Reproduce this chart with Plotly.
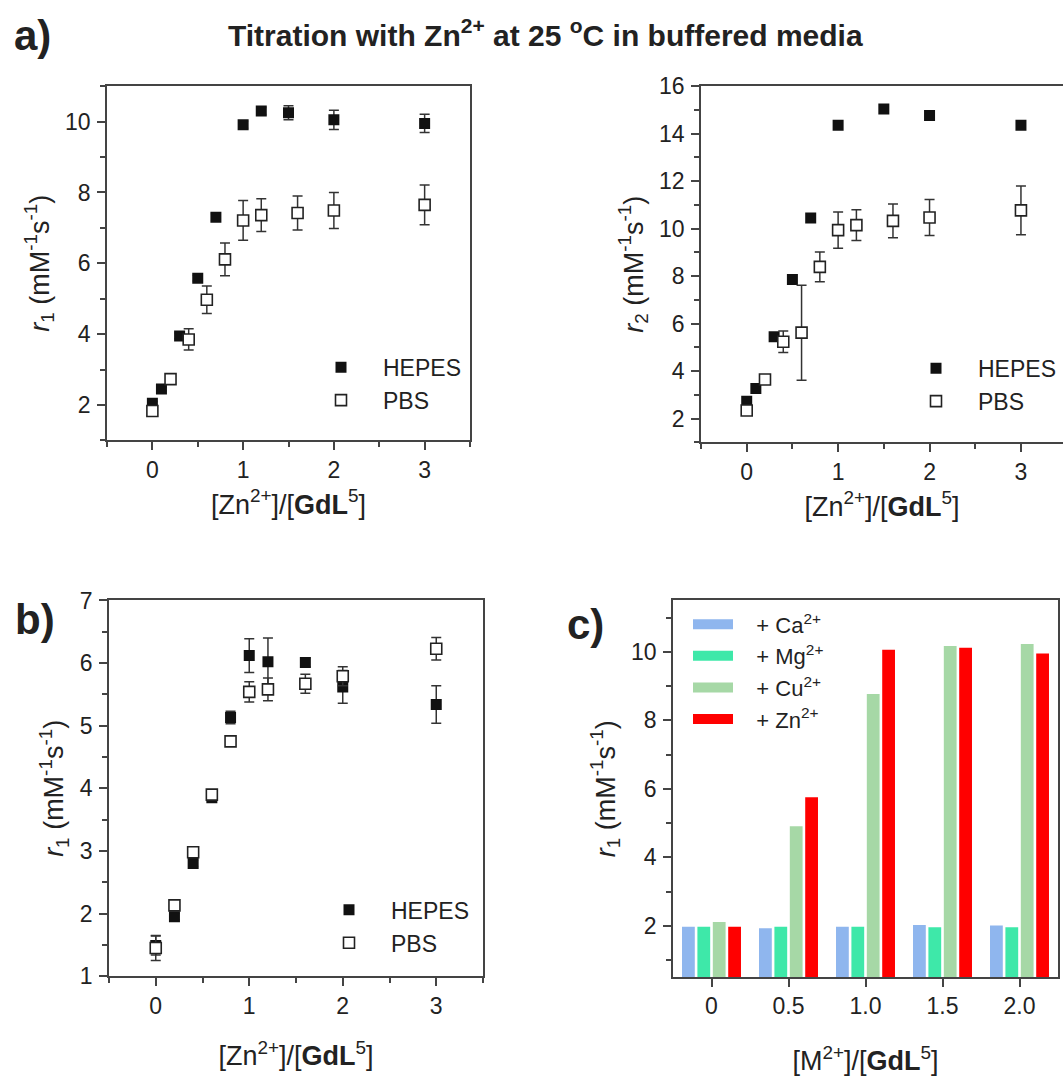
import plotly.graph_objects as go

# ---------------- data ----------------
# panel a (left): r1 titration
a1_hepes_x = [0, 0.1, 0.3, 0.5, 0.7, 1.0, 1.2, 1.5, 2.0, 3.0]
a1_hepes_y = [2.05, 2.45, 3.95, 5.58, 7.30, 9.91, 10.30, 10.25, 10.05, 9.95]
a1_hepes_e = [0.05, 0.05, 0.08, 0.08, 0.1, 0.1, 0.1, 0.2, 0.27, 0.26]
a1_pbs_x = [0, 0.2, 0.4, 0.6, 0.8, 1.0, 1.2, 1.6, 2.0, 3.0]
a1_pbs_y = [1.83, 2.73, 3.85, 4.97, 6.11, 7.21, 7.36, 7.42, 7.49, 7.65]
a1_pbs_e = [0.08, 0.1, 0.3, 0.39, 0.46, 0.56, 0.46, 0.48, 0.51, 0.56]

# panel a (right): r2 titration
a2_hepes_x = [0, 0.1, 0.3, 0.5, 0.7, 1.0, 1.5, 2.0, 3.0]
a2_hepes_y = [2.73, 3.27, 5.45, 7.86, 10.45, 14.36, 15.04, 14.77, 14.35]
a2_pbs_x = [0, 0.2, 0.4, 0.6, 0.8, 1.0, 1.2, 1.6, 2.0, 3.0]
a2_pbs_y = [2.34, 3.65, 5.24, 5.62, 8.39, 9.94, 10.15, 10.33, 10.47, 10.77]
a2_pbs_e = [0.1, 0.15, 0.45, 2.0, 0.63, 0.76, 0.65, 0.71, 0.76, 1.03]

# panel b: r1 titration
b_x = [0, 0.2, 0.4, 0.6, 0.8, 1.0, 1.2, 1.6, 2.0, 3.0]
b_hepes_y = [1.49, 1.95, 2.80, 3.85, 5.13, 6.12, 6.02, 6.01, 5.62, 5.34]
b_hepes_e = [0.15, 0.05, 0.05, 0.05, 0.1, 0.27, 0.38, 0.07, 0.26, 0.3]
b_pbs_y = [1.45, 2.13, 2.98, 3.90, 4.75, 5.54, 5.58, 5.67, 5.79, 6.23]
b_pbs_e = [0.2, 0.08, 0.05, 0.05, 0.05, 0.16, 0.18, 0.15, 0.15, 0.18]

# panel c: bars
c_x = [0, 0.5, 1.0, 1.5, 2.0]
c_ticktext = ["0", "0.5", "1.0", "1.5", "2.0"]
c_ca = [1.97, 1.93, 1.97, 2.02, 2.01]
c_mg = [1.97, 1.97, 1.97, 1.96, 1.96]
c_cu = [2.11, 4.91, 8.77, 10.17, 10.23]
c_zn = [1.97, 5.75, 10.06, 10.12, 9.95]
c_names = ["+ Ca<sup>2+</sup>", "+ Mg<sup>2+</sup>", "+ Cu<sup>2+</sup>", "+ Zn<sup>2+</sup>"]
c_colors = ["#8fb6ee", "#3ee8a9", "#a6d8a6", "#ff0000"]

FONT = "Liberation Sans, Arial, sans-serif"
TXT = "#222222"
AX = "#444444"
W, H = 1063, 1077
TICK_FS = 23
TITLE_FS = 27
LEG_FS = 23

fig = go.Figure()

def scatter_pair(xh, yh, eh, xp, yp, ep, xa, ya, leg):
    fig.add_trace(go.Scatter(
        x=xh, y=yh, mode="markers", name="HEPES", xaxis=xa, yaxis=ya, legend=leg,
        marker=dict(symbol="square", size=11, color="#111111", line=dict(width=0)),
        error_y=(dict(type="data", array=eh, visible=True, color="#333333", thickness=1.5, width=5)
                 if eh is not None else None)))
    fig.add_trace(go.Scatter(
        x=xp, y=yp, mode="markers", name="PBS", xaxis=xa, yaxis=ya, legend=leg,
        marker=dict(symbol="square", size=11, color="white", line=dict(width=1.6, color="#222222")),
        error_y=dict(type="data", array=ep, visible=True, color="#333333", thickness=1.5, width=5)))

scatter_pair(a1_hepes_x, a1_hepes_y, a1_hepes_e, a1_pbs_x, a1_pbs_y, a1_pbs_e, "x", "y", "legend")
scatter_pair(a2_hepes_x, a2_hepes_y, None, a2_pbs_x, a2_pbs_y, a2_pbs_e, "x2", "y2", "legend2")
scatter_pair(b_x, b_hepes_y, b_hepes_e, b_x, b_pbs_y, b_pbs_e, "x3", "y3", "legend3")

for vals, name, col in zip([c_ca, c_mg, c_cu, c_zn], c_names, c_colors):
    fig.add_trace(go.Bar(x=c_x, y=vals, name=name, xaxis="x4", yaxis="y4",
                         marker=dict(color=col, line=dict(width=0)), showlegend=False))
    fig.add_trace(go.Scatter(x=[None], y=[None], mode="lines", name="&nbsp;&nbsp;&nbsp;" + name,
                             xaxis="x4", yaxis="y4",
                             legend="legend4", line=dict(color=col, width=14)))

def px2x(p):
    return p / W

def px2y(p):
    return 1 - p / H

xt = "[Zn<sup>2+</sup>]/[<b>GdL</b><sup>5</sup>]"
ax_common = dict(showline=True, linecolor=AX, linewidth=1.5, ticks="outside", ticklen=8,
                 tickwidth=1.5, tickcolor=AX, showgrid=False, zeroline=False,
                 tickfont=dict(size=TICK_FS, color=TXT, family=FONT))

def xax(dom, rng, anchor, mirror=True, standoff=13, **kw):
    d = dict(ax_common)
    d.update(domain=dom, range=rng, anchor=anchor, mirror=mirror, ticklabelstandoff=0,
             title=dict(text=kw.pop("title", xt), font=dict(size=TITLE_FS, color=TXT, family=FONT),
                        standoff=standoff))
    d.update(kw)
    return d

def yax(dom, rng, anchor, title, mirror=True, **kw):
    d = dict(ax_common)
    d.update(domain=dom, range=rng, anchor=anchor, mirror=mirror, ticklabelstandoff=2,
             title=dict(text=title, font=dict(size=TITLE_FS, color=TXT, family=FONT), standoff=8))
    d.update(kw)
    return d

r1 = "<i>r</i><sub>1</sub> (mM<sup>-1</sup>s<sup>-1</sup>)"
r2 = "<i>r</i><sub>2</sub> (mM<sup>-1</sup>s<sup>-1</sup>)"
minor_x = dict(dtick=0.5, ticklen=5, tickwidth=1.5, tickcolor=AX, ticks="outside")

fig.update_layout(
    width=W, height=H, margin=dict(l=0, r=0, t=0, b=0),
    paper_bgcolor="white", plot_bgcolor="white",
    font=dict(family=FONT, color=TXT),
    bargap=0.2, bargroupgap=0.17, barmode="group",
    xaxis=xax([px2x(107), px2x(470)], [-0.5, 3.5], "y", tick0=0, dtick=1, minor=minor_x),
    yaxis=yax([px2y(438), px2y(75)], [1, 11], "x", r1, tick0=0, dtick=2,
              minor=dict(dtick=1, ticklen=5, tickwidth=1.5, tickcolor=AX, ticks="outside")),
    xaxis2=xax([px2x(701), 1.0], [-0.5, 3.46], "y2", tick0=0, dtick=1, minor=minor_x),
    yaxis2=yax([px2y(440), px2y(75)], [1, 16], "x2", r2, mirror=False, tick0=0, dtick=2,
               minor=dict(dtick=1, ticklen=5, tickwidth=1.5, tickcolor=AX, ticks="outside")),
    xaxis3=xax([px2x(109), px2x(483)], [-0.5, 3.5], "y3", standoff=29, tick0=0, dtick=1,
               minor=minor_x),
    yaxis3=yax([px2y(987), px2y(602)], [1, 7], "x3", r1, tick0=0, dtick=1,
               minor=dict(dtick=0.5, ticklen=5, tickwidth=1.5, tickcolor=AX, ticks="outside")),
    xaxis4=xax([px2x(673), px2x(1058)], [-0.25, 2.25], "y4", standoff=33,
               title="[M<sup>2+</sup>]/[<b>GdL</b><sup>5</sup>]",
               tickmode="array", tickvals=c_x, ticktext=c_ticktext),
    yaxis4=yax([px2y(988), px2y(602)], [0.5, 11.5], "x4", r1, tick0=0, dtick=2,
               minor=dict(dtick=1, ticklen=5, tickwidth=1.5, tickcolor=AX, ticks="outside")),
)

leg_common = dict(bgcolor="rgba(0,0,0,0)", borderwidth=0, xanchor="left", yanchor="top",
                  font=dict(size=LEG_FS, color=TXT, family=FONT), tracegroupgap=0, itemwidth=74)
fig.update_layout(
    legend=dict(leg_common, x=px2x(299), y=px2y(341)),
    legend2=dict(leg_common, x=px2x(894), y=px2y(342)),
    legend3=dict(leg_common, x=px2x(307), y=px2y(897)),
    legend4=dict(leg_common, x=px2x(688), y=px2y(605), itemwidth=40,
                 font=dict(size=22, color=TXT, family=FONT)),
)

fig.add_annotation(text="<b>Titration with Zn<sup>2+</sup> at 25 <sup>o</sup>C in buffered media</b>",
                   x=px2x(545), y=px2y(20), xref="paper", yref="paper", showarrow=False,
                   font=dict(size=30, color=TXT, family=FONT), xanchor="center", yanchor="middle")
for lab, px_, py_ in [("a)", 32, 23), ("b)", 35, 622), ("c)", 585, 627)]:
    fig.add_annotation(text="<b>%s</b>" % lab, x=px2x(px_), y=px2y(py_), xref="paper", yref="paper",
                       showarrow=False, font=dict(size=42, color=TXT, family=FONT),
                       xanchor="center", yanchor="middle")

fig.write_html("out.html")
